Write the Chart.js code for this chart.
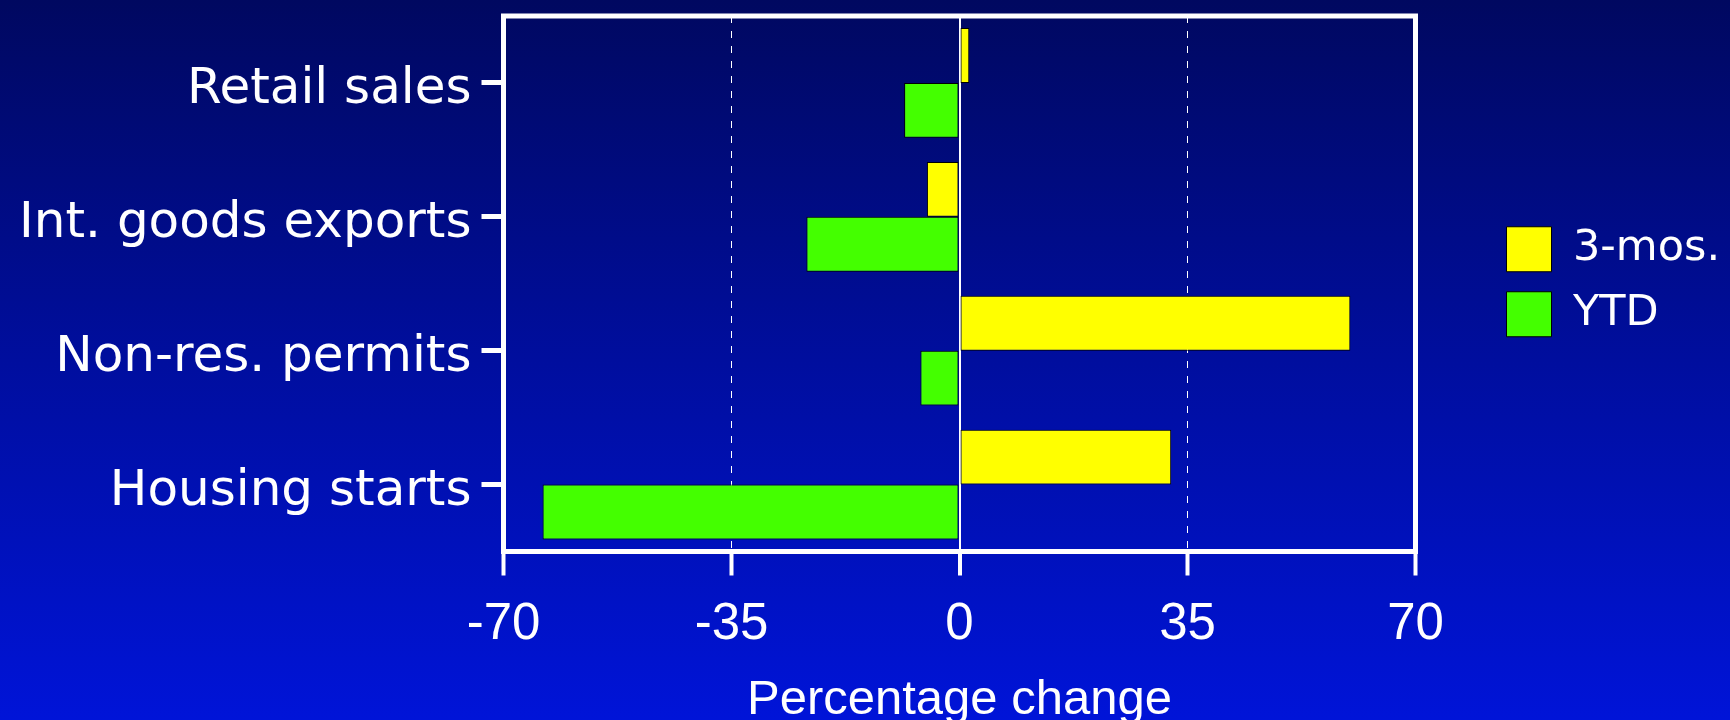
<!DOCTYPE html>
<html>
<head>
<meta charset="utf-8">
<title>Percentage change</title>
<script src="https://cdn.jsdelivr.net/npm/chart.js@4.4.1/dist/chart.umd.min.js"></script>
<style>
    html, body { margin: 0; padding: 0; overflow: hidden; }
    body {
        width: 1730px;
        height: 720px;
        background: linear-gradient(to bottom, #000860 0%, #000e9e 50%, #0014d8 100%);
    }
    canvas { display: block; }
</style>
</head>
<body>
<canvas id="chart-cambios" width="1730" height="720"></canvas>
<script>
// datos
const categorias = ['Retail sales', 'Int. goods exports', 'Non-res. permits', 'Housing starts'];
const tresMeses = [1.5, -5, 60, 32.5];
const ytd = [-8.5, -23.5, -6, -64];
const ticksX = [-70, -35, 0, 35, 70];
const etiquetasSeries = ['3-mos.', 'YTD'];

// marco blanco alrededor del area del grafico
const marco = {
    id: 'marco',
    afterDatasetsDraw(chart) {
        const { ctx, chartArea: a } = chart;
        ctx.save();
        ctx.strokeStyle = '#ffffff';
        ctx.lineWidth = 5;
        ctx.strokeRect(a.left, a.top, a.right - a.left, a.bottom - a.top);
        ctx.restore();
    }
};

// la leyenda va separada del marco
const margenLeyenda = {
    id: 'margenLeyenda',
    beforeInit(chart) {
        const fitOriginal = chart.legend.fit;
        chart.legend.fit = function () {
            fitOriginal.call(this);
            this.width = 314.5;
        };
    },
    afterLayout(chart) {
        const l = chart.legend;
        l.left += 71; l.right += 71;
        l.top -= 2; l.bottom -= 2;
    }
};

const canvas = document.getElementById('chart-cambios');
window.chartCambios = new Chart(canvas, {
    type: 'bar',
    data: {
        labels: categorias,
        datasets: [
            { label: etiquetasSeries[0], data: tresMeses, backgroundColor: '#ffff00', borderColor: '#000000', borderWidth: 1, borderSkipped: false },
            { label: etiquetasSeries[1], data: ytd, backgroundColor: '#44ff00', borderColor: '#000000', borderWidth: 1, borderSkipped: false }
        ]
    },
    options: {
        indexAxis: 'y',
        responsive: false,
        devicePixelRatio: 1,
        animation: false,
        categoryPercentage: 0.82,
        barPercentage: 1.0,
        layout: { padding: { top: 16, left: 0, right: 0, bottom: 0 } },
        plugins: {
            tooltip: { enabled: false },
            legend: {
                position: 'right',
                fullSize: false,
                labels: {
                    color: '#ffffff',
                    font: { family: "'DejaVu Sans'", size: 43 },
                    boxWidth: 45,
                    boxHeight: 45,
                    padding: 20
                }
            }
        },
        scales: {
            x: {
                type: 'linear',
                min: -70,
                max: 70,
                afterBuildTicks: (scale) => { scale.ticks = ticksX.map(v => ({ value: v })); },
                afterFit: (scale) => { scale.height = 168.5; },
                ticks: {
                    color: '#ffffff',
                    font: { family: "'Liberation Sans'", size: 51 },
                    padding: 19,
                    maxRotation: 0,
                    autoSkip: false
                },
                grid: {
                    color: (c) => (c.tick && c.tick.value > -70 && c.tick.value < 70) ? '#ffffff' : 'transparent',
                    lineWidth: (c) => (c.tick && c.tick.value === 0) ? 2 : 1,
                    drawTicks: true,
                    tickLength: 24,
                    tickWidth: 4,
                    tickColor: '#ffffff'
                },
                border: {
                    display: false,
                    dash: (c) => (c.tick && c.tick.value !== 0) ? [7, 8] : []
                },
                title: {
                    display: true,
                    text: 'Percentage change',
                    color: '#ffffff',
                    font: { family: "'Liberation Sans'", size: 49, lineHeight: 0.8 },
                    padding: { top: 0, bottom: 0 }
                }
            },
            y: {
                afterFit: (scale) => {
                    scale.width = 503.5;
                    scale.paddingTop = 0;
                    scale.paddingBottom = 0;
                },
                ticks: {
                    color: '#ffffff',
                    font: { family: "'DejaVu Sans'", size: 50 },
                    padding: 10,
                    labelOffset: 7,
                    autoSkip: false
                },
                grid: {
                    offset: false,
                    drawOnChartArea: false,
                    drawTicks: true,
                    tickLength: 22,
                    tickWidth: 5,
                    tickColor: '#ffffff'
                },
                border: { display: false }
            }
        }
    },
    plugins: [marco, margenLeyenda]
});
</script>
</body>
</html>
